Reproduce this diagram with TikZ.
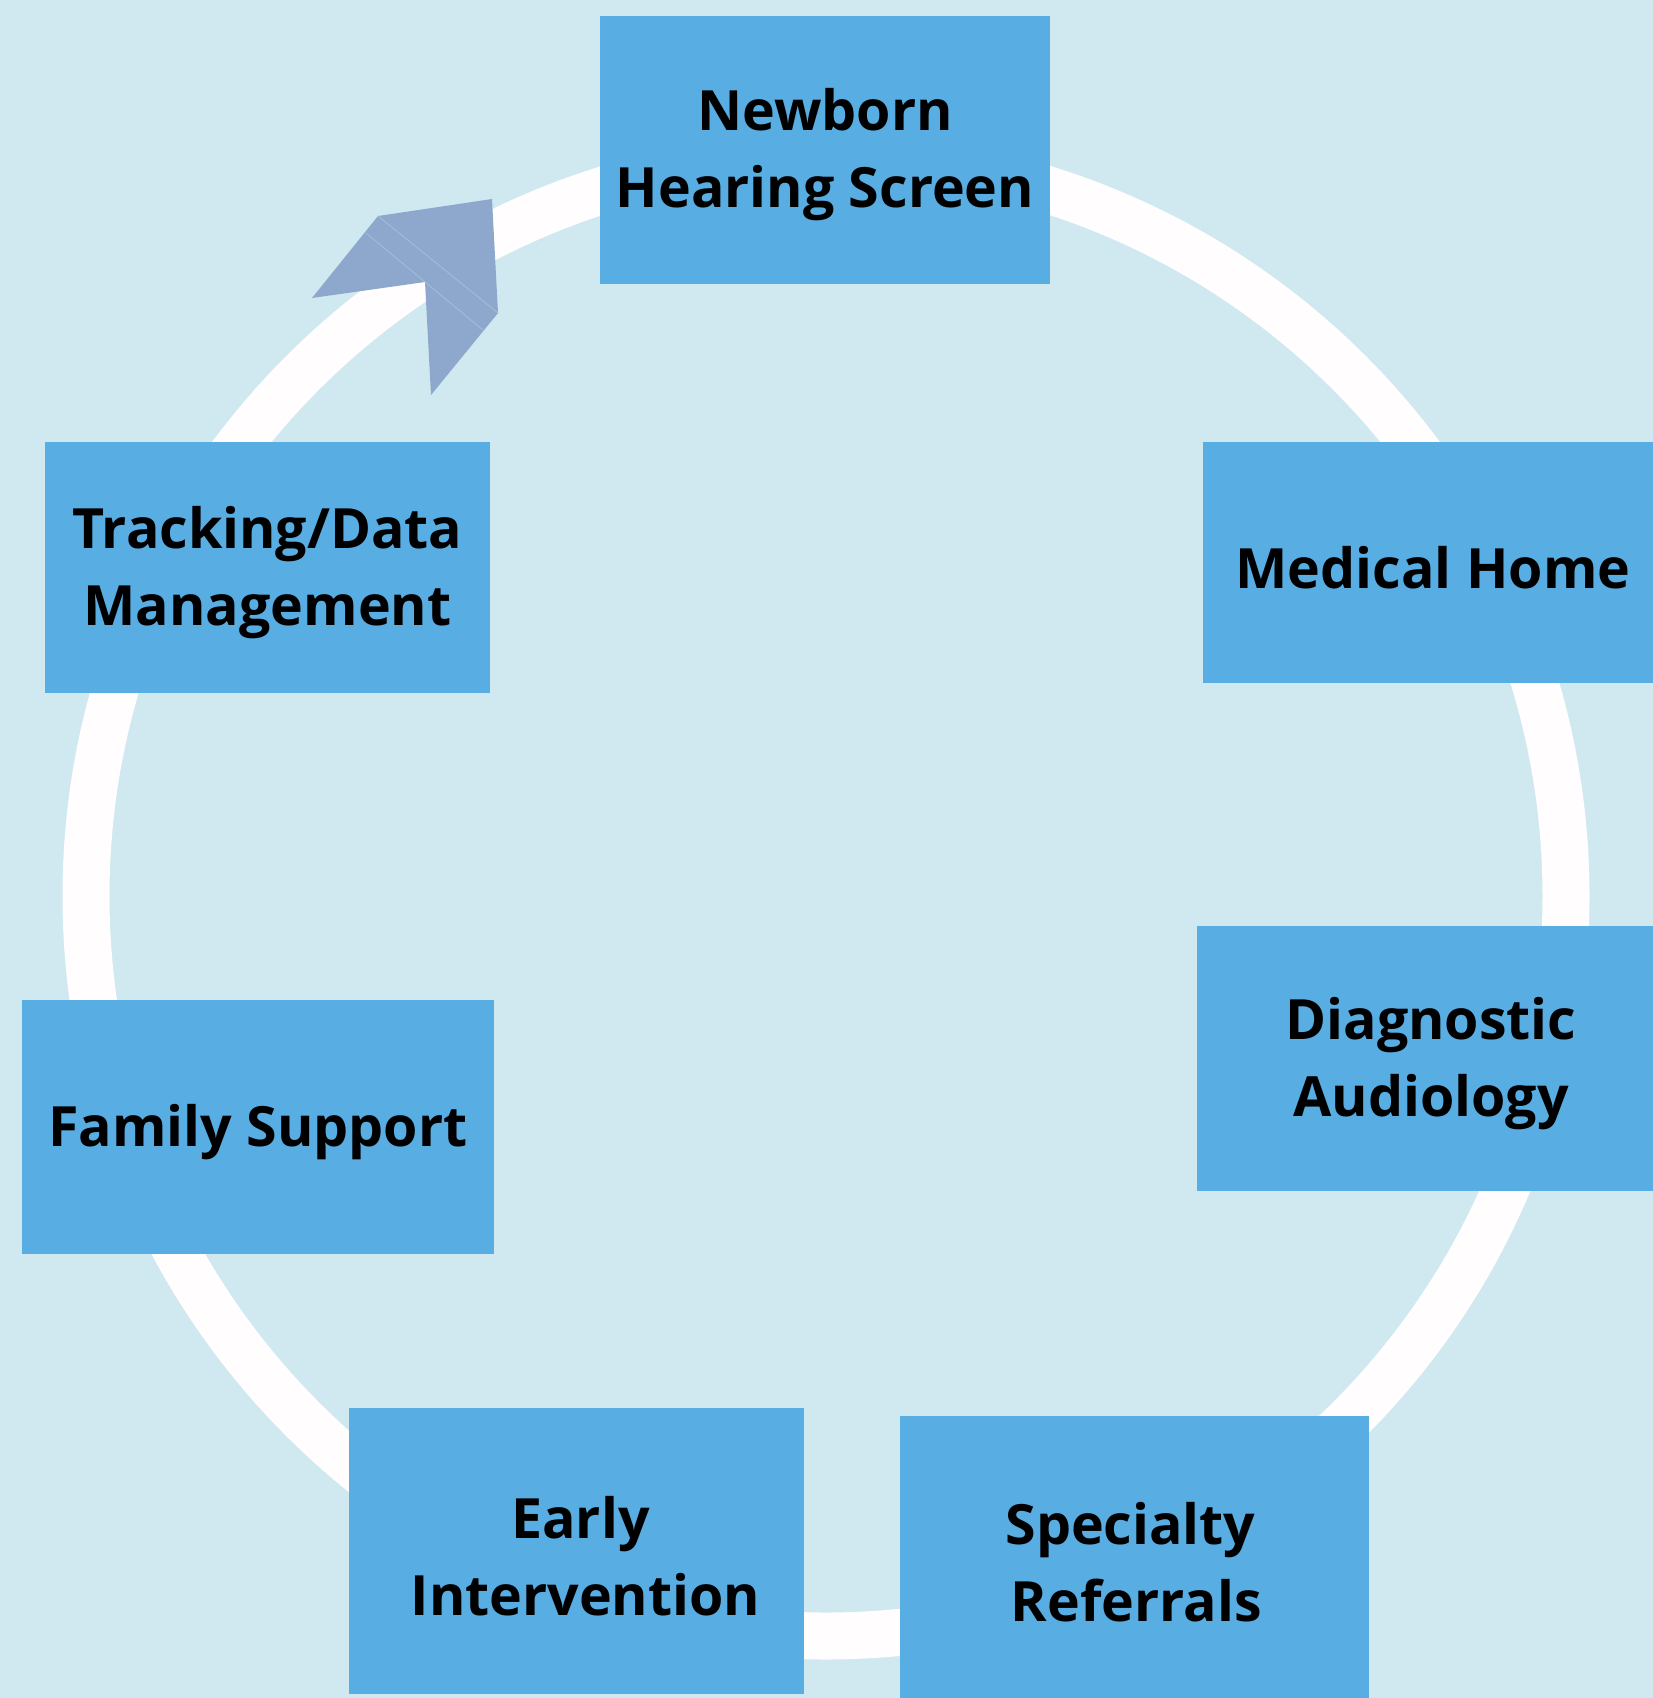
\documentclass[tikz,border=0pt]{standalone}
\usepackage{fontspec}
\setmainfont{Open Sans}
\definecolor{bg}{HTML}{D0E8F0}
\definecolor{boxblue}{HTML}{58ADE2}
\definecolor{arrowblue}{HTML}{8DA8CC}
\definecolor{arrowline}{HTML}{A8BCD8}
\definecolor{ring}{HTML}{FFFDFE}
\begin{document}
\begin{tikzpicture}[x=1pt,y=-1pt,
  stagebox/.style={fill=boxblue, draw=none, inner sep=0pt},
  lab/.style={align=center, inner sep=0pt, yshift=-5pt,
    font=\fontsize{55.5}{77}\selectfont\bfseries, text=black}]
\fill[bg] (0,0) rectangle (1653,1698);
\useasboundingbox (0,0) rectangle (1653,1698);
% ring
\coordinate (c) at (826,896);
\draw[ring, line width=47pt] (c) circle[radius=740pt];
% arrow head
\fill[arrowblue] (312,298) -- (378,216) -- (492,199) -- (498,313) -- (431,395) -- (425,282) -- cycle;
\draw[arrowline, line width=0.8pt] (378,216) -- (498,313);
\draw[arrowline, line width=0.8pt] (366,233) -- (483,330);
% boxes
\node[stagebox, minimum width=450pt, minimum height=268pt,
  label={[lab]center:{Newborn\\Hearing Screen}}] (nb) at (825,150) {};
\node[stagebox, minimum width=450pt, minimum height=241pt,
  label={[lab, xshift=5pt]center:{Medical Home}}] (mh) at (1428,562.5) {};
\node[stagebox, minimum width=456pt, minimum height=265pt,
  label={[lab, xshift=6pt]center:{Diagnostic\\Audiology}}] (da) at (1425,1058.5) {};
\node[stagebox, minimum width=469pt, minimum height=282pt,
  label={[lab, xshift=-4pt]center:{Specialty\\\hspace*{12pt}Referrals}}] (sr) at (1134.5,1557) {};
\node[stagebox, minimum width=455pt, minimum height=286pt,
  label={[lab, xshift=4pt]center:{Early\\\hspace*{10pt}Intervention}}] (ei) at (576.5,1551) {};
\node[stagebox, minimum width=472pt, minimum height=254pt,
  label={[lab]center:{Family Support}}] (fs) at (258,1127) {};
\node[stagebox, minimum width=445pt, minimum height=251pt,
  label={[lab]center:{Tracking/Data\\Management}}] (td) at (267.5,567.5) {};
\end{tikzpicture}
\end{document}
